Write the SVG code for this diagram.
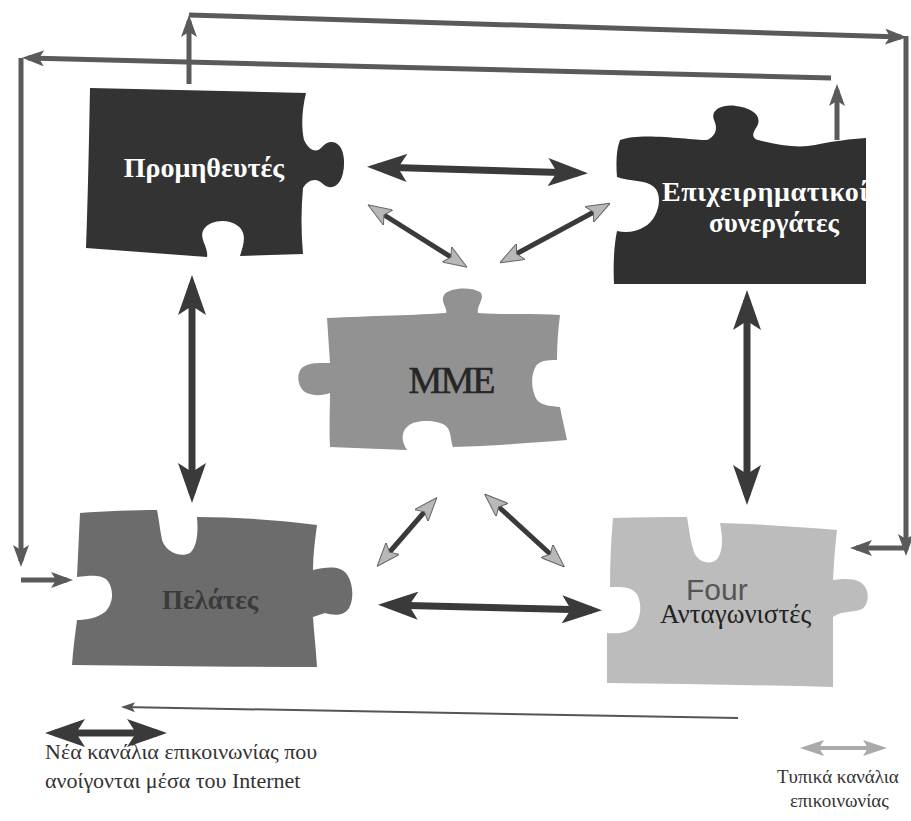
<svg xmlns="http://www.w3.org/2000/svg" width="911" height="821" viewBox="0 0 911 821">
<style>
.lbl{font-family:"Liberation Serif","DejaVu Serif",serif;font-weight:bold}
.leg{font-family:"Liberation Serif","DejaVu Serif",serif;font-size:22px;fill:#333}
.dark{stroke:#3a3a3a;stroke-width:7;fill:none}
.diag{stroke:#3a3a3a;stroke-width:5;fill:none}
.frame{stroke:#5a5a5a;stroke-width:5;fill:none}
</style>
<defs>
<marker id="mb" viewBox="0 0 40 28" refX="30" refY="14" markerWidth="40" markerHeight="28" markerUnits="userSpaceOnUse" orient="auto-start-reverse"><path d="M0,0 L40,14 L0,28 L9,14 Z" fill="#3a3a3a"/></marker>
<marker id="ms" viewBox="0 0 24 18" refX="18" refY="9" markerWidth="24" markerHeight="18" markerUnits="userSpaceOnUse" orient="auto-start-reverse"><path d="M0,0 L24,9 L0,18 L5,9 Z" fill="#b8b8b8" stroke="#666" stroke-width="1"/></marker>
<marker id="mf" viewBox="0 0 22 16" refX="16" refY="8" markerWidth="22" markerHeight="16" markerUnits="userSpaceOnUse" orient="auto-start-reverse"><path d="M0,0 L22,8 L0,16 L5,8 Z" fill="#5a5a5a"/></marker>
<marker id="mt" viewBox="0 0 14 10" refX="12" refY="5" markerWidth="14" markerHeight="10" markerUnits="userSpaceOnUse" orient="auto-start-reverse"><path d="M0,0 L14,5 L0,10 L3,5 Z" fill="#555"/></marker>
<marker id="ml" viewBox="0 0 24 16" refX="18" refY="8" markerWidth="24" markerHeight="16" markerUnits="userSpaceOnUse" orient="auto-start-reverse"><path d="M0,0 L24,8 L0,16 L5,8 Z" fill="#aaa"/></marker>
<clipPath id="clipE"><rect x="600" y="100" width="266" height="200"/></clipPath>
</defs>

<g id="connectors">
<path class="dark" d="M377,167 L578,173" marker-start="url(#mb)" marker-end="url(#mb)"/>
<path class="dark" d="M388,605 L592,610" marker-start="url(#mb)" marker-end="url(#mb)"/>
<path class="dark" d="M192,285 L192,493" marker-start="url(#mb)" marker-end="url(#mb)"/>
<path class="dark" d="M747,300 L747,495" marker-start="url(#mb)" marker-end="url(#mb)"/>
<path class="diag" d="M373,208 L462,264" marker-start="url(#ms)" marker-end="url(#ms)"/>
<path class="diag" d="M605,206 L505,260" marker-start="url(#ms)" marker-end="url(#ms)"/>
<path class="diag" d="M433,502 L381,562" marker-start="url(#ms)" marker-end="url(#ms)"/>
<path class="diag" d="M489,498 L560,563" marker-start="url(#ms)" marker-end="url(#ms)"/>
<path class="frame" d="M189,84 L189,21" marker-end="url(#mf)"/>
<path class="frame" d="M189,15 L901,37" marker-end="url(#mf)"/>
<path class="frame" d="M906,36 L906,550" marker-end="url(#mf)"/>
<path class="frame" d="M906,548 L856,548" marker-end="url(#mf)"/>
<path class="frame" d="M837,140 L837,90" marker-end="url(#mf)"/>
<path class="frame" d="M831,78 L28,58" marker-end="url(#mf)"/>
<path class="frame" d="M21,58 L21,561" marker-end="url(#mf)"/>
<path class="frame" d="M21,580 L67,580" marker-end="url(#mf)"/>
</g>

<g id="node-promitheutes">
<path d="M90,88 L306,93 C302,110 301,125 304,140 C309,150 316,154 322,147 C329,138 343,140 344,160 C345,182 334,193 323,184 C316,177 308,180 303,188 C301,210 301,232 303,254 L240,256 C243,246 248,234 238,226 C228,218 210,220 204,229 C198,238 209,247 207,257 L86,248 C88,195 89,140 90,88 Z" fill="#333"/>
<text class="lbl" x="204" y="177" font-size="28" fill="#fff" text-anchor="middle">Προμηθευτές</text>
</g>

<g id="node-synergates">
<path d="M620,140 C640,132 690,140 707,140 C716,136 718,128 714,120 C710,110 722,104 736,106 C752,108 764,116 756,128 C752,134 752,138 758,140 C780,146 800,148 815,145 C835,141 850,139 866,138 L866,284 L614,284 C613,265 614,245 617,231 C626,233 636,232 644,227 C658,220 664,196 654,187 C645,179 630,182 617,177 C616,165 616,150 620,140 Z" fill="#303030"/>
<g clip-path="url(#clipE)">
<text class="lbl" x="662" y="201" font-size="28" fill="#fff" letter-spacing="0.6">Επιχειρηματικοί</text>
</g>
<text class="lbl" x="774" y="232" font-size="27" fill="#fff" text-anchor="middle">συνεργάτες</text>
</g>

<g id="node-mme">
<path d="M327,318 C370,316 420,315 446,313 C448,308 440,302 444,295 C448,288 470,286 480,292 C486,298 476,306 478,313 C505,315 535,313 560,315 C558,330 557,345 557,360 C548,360 538,360 535,368 C530,378 532,392 537,400 C542,406 552,406 560,407 C562,418 565,430 567,440 C530,443 490,446 453,447 C450,440 452,432 446,426 C438,420 416,419 408,426 C400,433 402,442 407,450 C380,449 355,448 330,447 C329,430 330,410 330,393 C322,396 312,396 305,392 C297,386 296,372 303,367 C310,362 320,363 330,363 C329,348 328,333 327,318 Z" fill="#929292"/>
<text x="451" y="393" font-family="Liberation Serif, DejaVu Serif, serif" font-size="38" fill="#262626" stroke="#262626" stroke-width="0.6" text-anchor="middle" letter-spacing="-2">ΜΜΕ</text>
</g>

<g id="node-pelates">
<path d="M80,513 C105,511 135,510 157,510 C159,520 160,530 162,540 C166,552 180,558 190,553 C198,546 198,530 197,517 C235,517 280,520 317,525 C315,540 313,555 313,570 C322,568 332,566 340,569 C352,573 355,595 350,606 C346,616 335,616 325,613 L313,617 C314,633 316,650 317,667 C235,667 150,666 72,665 C73,650 75,635 77,620 C87,620 97,618 105,612 C114,604 114,588 107,580 C100,574 88,576 77,577 C78,555 79,535 80,513 Z" fill="#6c6c6c"/>
<text class="lbl" x="210" y="609" font-size="27" fill="#3a3a3a" text-anchor="middle">Πελάτες</text>
</g>

<g id="node-antagonistes">
<path d="M613,518 C638,517 662,517 687,517 C689,528 690,540 694,552 C698,563 712,566 718,558 C724,548 722,535 720,523 C760,524 800,527 837,530 C835,546 834,562 833,580 C842,579 852,578 860,582 C870,588 870,603 862,609 C853,613 843,610 833,617 C833,640 833,665 833,687 C758,685 683,684 607,683 C607,666 607,650 607,633 C618,634 628,633 634,627 C642,618 642,600 636,593 C630,586 620,587 610,587 C610,563 611,540 613,518 Z" fill="#bcbcbc"/>
<text x="686" y="600" font-family="Liberation Sans, Arial, sans-serif" font-size="30" fill="#555">Four</text>
<text x="660" y="623" font-family="Liberation Serif, DejaVu Serif, serif" font-size="27" fill="#222">Ανταγωνιστές</text>
</g>

<g id="legend-new">
<path d="M123,707 L738,718" stroke="#555" stroke-width="2" fill="none" marker-start="url(#mt)"/>
<path class="dark" d="M55,733 L157,733" marker-start="url(#mb)" marker-end="url(#mb)"/>
<text class="leg" x="45" y="759">Νέα κανάλια επικοινωνίας που</text>
<text class="leg" x="45" y="788">ανοίγονται μέσα του Internet</text>
</g>

<g id="legend-typical">
<path d="M806,748 L881,748" stroke="#aaa" stroke-width="4" fill="none" marker-start="url(#ml)" marker-end="url(#ml)"/>
<text class="leg" x="777" y="783" style="font-size:19px">Τυπικά κανάλια</text>
<text class="leg" x="790" y="807" style="font-size:19px">επικοινωνίας</text>
</g>
</svg>
